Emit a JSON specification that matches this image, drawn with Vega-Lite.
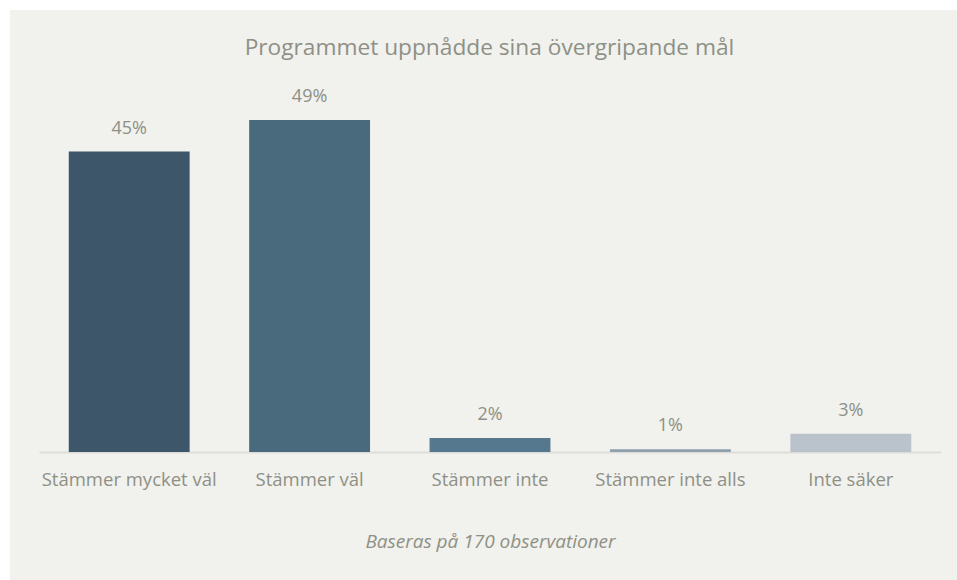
{
  "$schema": "https://vega.github.io/schema/vega-lite/v6.json",
  "autosize": {"type": "none"},
  "padding": {"left": 10, "top": 10, "right": 0, "bottom": 0},
  "width": 947,
  "height": 570,
  "background": "#ffffff",
  "view": {"fill": "#f1f1ed", "stroke": null},
  "title": {
    "text": "Programmet uppnådde sina övergripande mål",
    "offset": -50,
    "dx": 6,
    "anchor": "middle",
    "font": "Open Sans",
    "fontSize": 22.7,
    "fontWeight": "normal",
    "color": "#8e9086"
  },
  "data": {
    "values": [
      {"kategori": "Stämmer mycket väl", "andel": 0.447, "etikett": "45%"},
      {"kategori": "Stämmer väl", "andel": 0.494, "etikett": "49%"},
      {"kategori": "Stämmer inte", "andel": 0.021, "etikett": "2%"},
      {"kategori": "Stämmer inte alls", "andel": 0.004, "etikett": "1%"},
      {"kategori": "Inte säker", "andel": 0.027, "etikett": "3%"}
    ]
  },
  "encoding": {
    "x": {
      "field": "kategori",
      "type": "nominal",
      "sort": null,
      "scale": {"range": [29, 931], "paddingInner": 0.33, "paddingOuter": 0.165},
      "axis": {
        "title": "Baseras på 170 observationer",
        "titleFont": "Open Sans",
        "titleFontStyle": "italic",
        "titleFontWeight": "normal",
        "titleFontSize": 19,
        "titleColor": "#8e9086",
        "titlePadding": 44,
        "labelAngle": 0,
        "labelFont": "Open Sans",
        "labelFontSize": 18.5,
        "labelColor": "#8e9086",
        "labelPadding": 18,
        "ticks": false,
        "domainColor": "#dddeda",
        "domainWidth": 2,
        "offset": -128,
        "grid": false
      }
    },
    "y": {
      "field": "andel",
      "type": "quantitative",
      "scale": {"domain": [0, 0.5], "range": [442, 106], "nice": false},
      "axis": null
    }
  },
  "layer": [
    {
      "mark": {"type": "bar"},
      "encoding": {
        "color": {
          "field": "kategori",
          "type": "nominal",
          "sort": null,
          "scale": {
            "domain": ["Stämmer mycket väl", "Stämmer väl", "Stämmer inte", "Stämmer inte alls", "Inte säker"],
            "range": ["#3d5669", "#49697d", "#56788e", "#8e9fae", "#bac3cc"]
          },
          "legend": null
        }
      }
    },
    {
      "mark": {"type": "text", "font": "Open Sans", "fontSize": 18, "color": "#8e9086", "baseline": "alphabetic", "dy": -18},
      "encoding": {"text": {"field": "etikett"}}
    }
  ]
}
